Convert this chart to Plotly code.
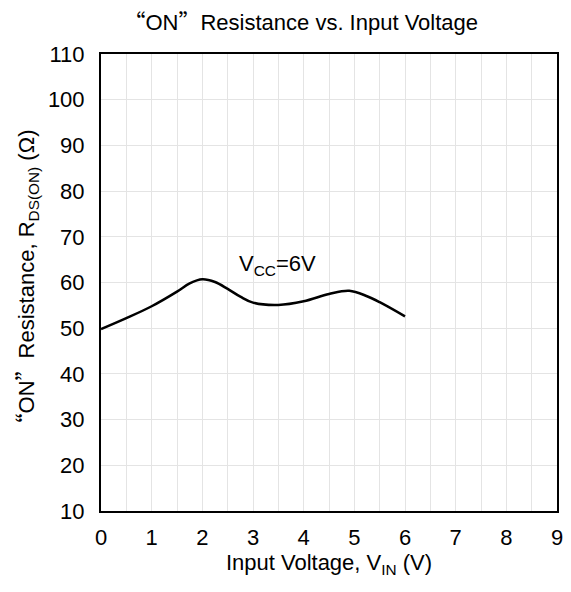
import plotly.graph_objects as go

x_vin = [0, 0.5, 1, 1.5, 1.75, 2, 2.25, 2.5, 2.75, 3, 3.5, 4, 4.5, 4.9, 5.25, 5.5, 6]
r_on = [49.8, 52.2, 54.8, 58.0, 59.8, 60.7, 60.1, 58.6, 56.9, 55.6, 55.1, 55.9, 57.5, 58.2, 57.0, 55.7, 52.6]

x_ticks = list(range(0, 10))
y_ticks = list(range(10, 111, 10))

FONT = "Arial, Liberation Sans, sans-serif"
Q = lambda s: '<span style="font-family:Noto Sans CJK SC">' + s + '</span>'

fig = go.Figure()
fig.add_trace(go.Scatter(x=x_vin, y=r_on, mode="lines",
                         line=dict(color="black", width=2.5, shape="spline", smoothing=1.0),
                         showlegend=False))

fig.add_annotation(x=3.48, y=63.8, text="V<sub>CC</sub>=6V", showarrow=False,
                   font=dict(size=22, color="black", family=FONT))

fig.update_layout(
    width=563, height=584,
    margin=dict(l=93, r=14, t=46, b=81),
    paper_bgcolor="white", plot_bgcolor="white",
    font=dict(family=FONT, color="black", size=22),
    title=dict(text=Q("“") + "ON" + Q("”") + "Resistance vs. Input Voltage",
               x=0.52, xanchor="center", y=0.976, yanchor="middle",
               font=dict(size=22, family=FONT)),
)
fig.update_xaxes(range=[0, 9], tickvals=x_ticks, ticktext=[str(v) for v in x_ticks],
                 showgrid=True, gridcolor="#e4e4e4", gridwidth=1,
                 minor=dict(dtick=0.5, showgrid=True, gridcolor="#e4e4e4", gridwidth=1),
                 showline=True, linecolor="black", linewidth=2, mirror=True,
                 ticks="", zeroline=False, tickfont=dict(size=22), automargin=False,
                 ticklabelstandoff=6,
                 title=dict(text="Input Voltage, V<sub>IN</sub> (V)", font=dict(size=22), standoff=4))
fig.update_yaxes(range=[10, 110], tickvals=y_ticks, ticktext=[str(v) for v in y_ticks],
                 showgrid=True, gridcolor="#e4e4e4", gridwidth=1,
                 showline=True, linecolor="black", linewidth=2, mirror=True,
                 ticks="", zeroline=False, tickfont=dict(size=22), automargin=False,
                 ticklabelstandoff=10,
                 title=dict(text=Q("“") + "ON" + Q("”") + "Resistance, R<sub>DS(ON)</sub> (Ω)",
                            font=dict(size=22), standoff=14))

fig.write_html("out.html")
